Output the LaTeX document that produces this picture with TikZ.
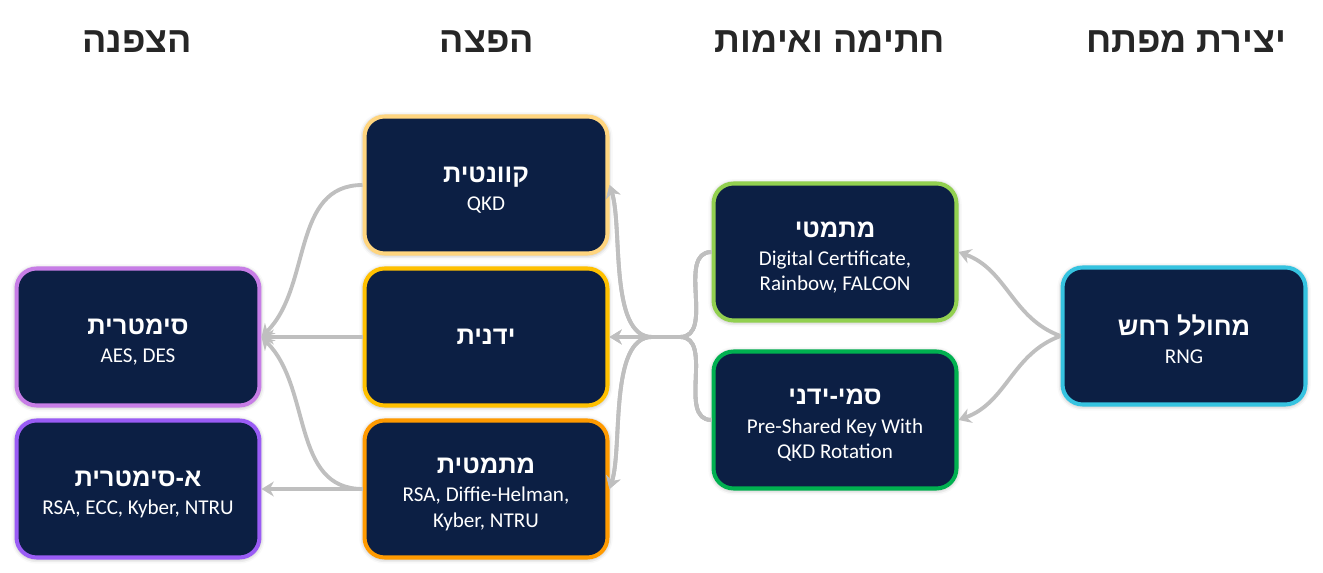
\documentclass[tikz,border=0pt]{standalone}
\usepackage{fontspec}
\setmainfont{Carlito}
\newfontfamily\hebfont[Script=Hebrew]{Liberation Sans}
\TeXXeTstate=1
\usetikzlibrary{arrows.meta,shadows.blur}
\definecolor{boxfill}{HTML}{0C1F44}
\definecolor{linegray}{HTML}{BFBFBF}
\definecolor{headtext}{HTML}{262626}
\definecolor{symc}{HTML}{C77DE6}
\definecolor{asymc}{HTML}{9A5CF5}
\definecolor{quantc}{HTML}{FFD57F}
\definecolor{manualc}{HTML}{FFC000}
\definecolor{mathc}{HTML}{FF9A00}
\definecolor{matc}{HTML}{92D050}
\definecolor{semic}{HTML}{00B050}
\definecolor{rngc}{HTML}{36C3E0}
\newcommand{\heb}[1]{{\hebfont\bfseries\beginR #1\endR}}
\newcommand{\boxhead}[1]{{\fontsize{14.5}{18}\selectfont\rule{0pt}{15pt}\heb{#1}}\\[1.5pt]}

\begin{document}
\begin{tikzpicture}[x=0.02cm, y=-0.02cm,
  box/.style={rectangle, rounded corners=0.4cm, fill=boxfill, line width=2.3pt,
    minimum width=4.86cm, minimum height=2.74cm, text=white, align=center,
    font=\fontsize{12}{14.5}\selectfont,
    blur shadow={shadow xshift=0pt, shadow yshift=-0.5pt, shadow blur radius=3pt, shadow opacity=40}},
  head/.style={text=headtext, font=\fontsize{20.5}{24}\selectfont},
  conn/.style={draw=linegray, line width=2.2pt, -{Stealth[length=7pt,width=8.5pt]}}]
\useasboundingbox (0,0) rectangle (1323,573);
% column titles
\node[head] (hd1) at (137,42) {\heb{הצפנה}};
\node[head] (hd2) at (487,42) {\heb{הפצה}};
\node[head] (hd3) at (830,42) {\heb{חתימה ואימות}};
\node[head] (hd4) at (1186,42) {\heb{יצירת מפתח}};
% boxes
\node[box, draw=symc] (sym) at (138,337) {\boxhead{סימטרית}AES, DES};
\node[box, draw=asymc] (asym) at (138,489) {\boxhead{א-סימטרית}RSA, ECC, Kyber, NTRU};
\node[box, draw=quantc] (quant) at (486,185) {\boxhead{קוונטית}QKD};
\node[box, draw=manualc] (manual) at (486,337) {{\fontsize{14.5}{18}\selectfont\heb{ידנית}}};
\node[box, draw=mathc] (math) at (486,489) {\boxhead{מתמטית}RSA, Diffie-Helman,\\Kyber, NTRU};
\node[box, draw=matc] (mat) at (835,252) {\boxhead{מתמטי}Digital Certificate,\\Rainbow, FALCON};
\node[box, draw=semic] (semi) at (835,420) {\boxhead{סמי-ידני}Pre-Shared Key With\\QKD Rotation};
\node[box, draw=rngc] (rng) at (1184,336) {\boxhead{מחולל רחש}RNG};
% junction points
\coordinate (jr) at (680,337);
\coordinate (jl) at (652,337);
% connectors
\draw[conn] (rng.west) to[out=160,in=-20] (mat.east);
\draw[conn] (rng.west) to[out=200,in=20] (semi.east);
\foreach \src in {mat,semi} {
  \draw[conn] (\src.west) to[out=180,in=0] (jr) -- (jl) to[out=180,in=-72,looseness=0.7] (quant.east);
  \draw[conn] (\src.west) to[out=180,in=0] (jr) -- (jl) -- (manual.east);
  \draw[conn] (\src.west) to[out=180,in=0] (jr) -- (jl) to[out=180,in=72,looseness=0.7] (math.east);
}
\draw[conn] (quant.west) to[out=180,in=45] (sym.east);
\draw[conn] (manual.west) -- (sym.east);
\draw[conn] (math.west) to[out=180,in=-45] (sym.east);
\draw[conn] (math.west) -- (asym.east);
\end{tikzpicture}
\end{document}
